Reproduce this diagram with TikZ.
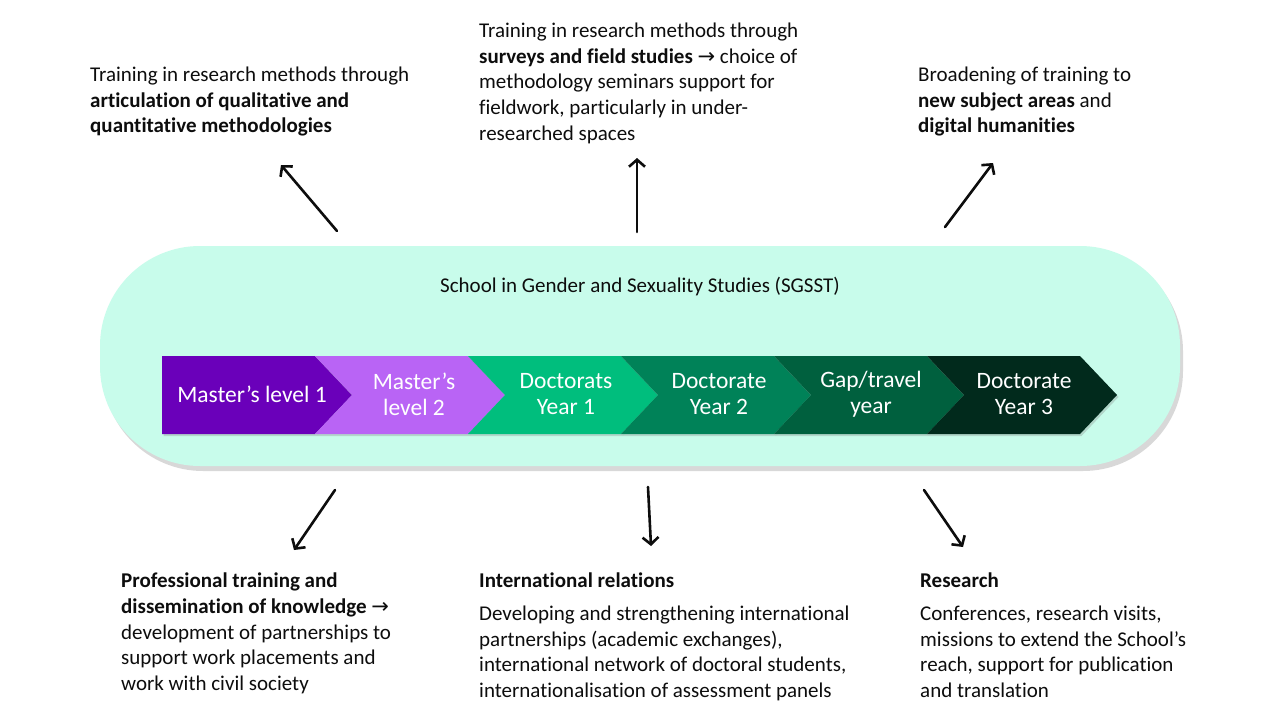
\documentclass[tikz,border=0pt]{standalone}
\usepackage{fontspec}
\setmainfont{Carlito}[Ligatures=NoCommon]
\newfontfamily\arrowfont{DejaVu Sans}
\usetikzlibrary{arrows.meta,shadows}

\definecolor{capsulefill}{RGB}{200,252,235}
\definecolor{textblack}{RGB}{13,13,13}
\definecolor{stageone}{RGB}{106,0,186}
\definecolor{stagetwo}{RGB}{185,100,245}
\definecolor{stagethree}{RGB}{0,190,125}
\definecolor{stagefour}{RGB}{0,130,88}
\definecolor{stagefive}{RGB}{0,96,62}
\definecolor{stagesix}{RGB}{1,42,28}

\newcommand{\thenarrow}{{\arrowfont\fontsize{21}{21}\selectfont →}}

\begin{document}
\begin{tikzpicture}[x=1pt,y=-1pt,
    bodytext/.style ={anchor=north west, align=left, inner sep=0pt, text=textblack,
                      font=\fontsize{21}{25.6}\selectfont},
    stagetext/.style={align=center, inner sep=0pt, text=white,
                      font=\fontsize{23.5}{26}\selectfont},
    stageshape/.style={drop shadow={shadow xshift=1.5pt, shadow yshift=-2pt, opacity=0.3}},
    outarrow/.style ={line width=2.6pt, line cap=round, textblack,
                      -{Straight Barb[length=7pt, width=16pt]}}]
   \fill[white] (0,0) rectangle (1280,720);
   \useasboundingbox (0,0) rectangle (1280,720);

   % the school
   \fill[capsulefill, rounded corners=100pt,
         drop shadow={shadow xshift=3pt, shadow yshift=-5pt, opacity=0.3}]
      (100,246) rectangle (1180,466);
   \node[font=\fontsize{21}{25}\selectfont, text=textblack] (school) at (640,287)
      {School in Gender and Sexuality Studies (SGSST)};

   % the stages
   \fill[stageone, stageshape] (162,356) -- (315,356) -- (352,395) -- (315,434) -- (162,434) -- cycle;
   \fill[stagetwo, stageshape] (315,356) -- (468,356) -- (505,395) -- (468,434) -- (315,434) -- (352,395) -- cycle;
   \fill[stagethree, stageshape] (468,356) -- (621,356) -- (658,395) -- (621,434) -- (468,434) -- (505,395) -- cycle;
   \fill[stagefour, stageshape] (621,356) -- (774,356) -- (811,395) -- (774,434) -- (621,434) -- (658,395) -- cycle;
   \fill[stagefive, stageshape] (774,356) -- (927,356) -- (964,395) -- (927,434) -- (774,434) -- (811,395) -- cycle;
   \fill[stagesix, stageshape] (927,356) -- (1080,356) -- (1117,395) -- (1080,434) -- (927,434) -- (964,395) -- cycle;

   \node[stagetext] (master1) at (252,394) {Master’s level 1};
   \node[stagetext] (master2) at (414,394) {Master’s\\level 2};
   \node[stagetext] (doc1) at (566,394) {Doctorats\\Year 1};
   \node[stagetext] (doc2) at (719,394) {Doctorate\\Year 2};
   \node[stagetext] (gap) at (871,394) {Gap/travel\\year};
   \node[stagetext] (doc3) at (1024,394) {Doctorate\\Year 3};

   % the outcomes
   \node[bodytext] (methods) at (90,67)
      {Training in research methods through\\
       \textbf{articulation of qualitative and}\\
       \textbf{quantitative methodologies}};
   \node[bodytext] (surveys) at (479,23)
      {Training in research methods through\\
       \textbf{surveys and field studies} \thenarrow{} choice of\\
       methodology seminars support for\\
       fieldwork, particularly in under-\\
       researched spaces};
   \node[bodytext] (broaden) at (918,67)
      {Broadening of training to\\
       \textbf{new subject areas} and\\
       \textbf{digital humanities}};
   \node[bodytext] (professional) at (121,573)
      {\textbf{Professional training and}\\
       \textbf{dissemination of knowledge} \thenarrow\\
       development of partnerships to\\
       support work placements and\\
       work with civil society};
   \node[bodytext] (international) at (479,573)
      {\textbf{International relations}\\[7pt]
       Developing and strengthening international\\
       partnerships (academic exchanges),\\
       international network of doctoral students,\\
       internationalisation of assessment panels};
   \node[bodytext] (research) at (920,573)
      {\textbf{Research}\\[7pt]
       Conferences, research visits,\\
       missions to extend the School’s\\
       reach, support for publication\\
       and translation};

   % arrows
   \coordinate (a1) at (337,231);  \coordinate (b1) at (281,165);
   \coordinate (a2) at (637,232);  \coordinate (b2) at (637,158);
   \coordinate (a3) at (945,227);  \coordinate (b3) at (993,163);
   \coordinate (a4) at (335,490);  \coordinate (b4) at (294,550);
   \coordinate (a5) at (648,487);  \coordinate (b5) at (651,546);
   \coordinate (a6) at (924,490);  \coordinate (b6) at (963,547);

   \draw[outarrow] (a1) -- (b1);
   \draw[outarrow] (a2) -- (b2);
   \draw[outarrow] (a3) -- (b3);
   \draw[outarrow] (a4) -- (b4);
   \draw[outarrow] (a5) -- (b5);
   \draw[outarrow] (a6) -- (b6);
\end{tikzpicture}
\end{document}
